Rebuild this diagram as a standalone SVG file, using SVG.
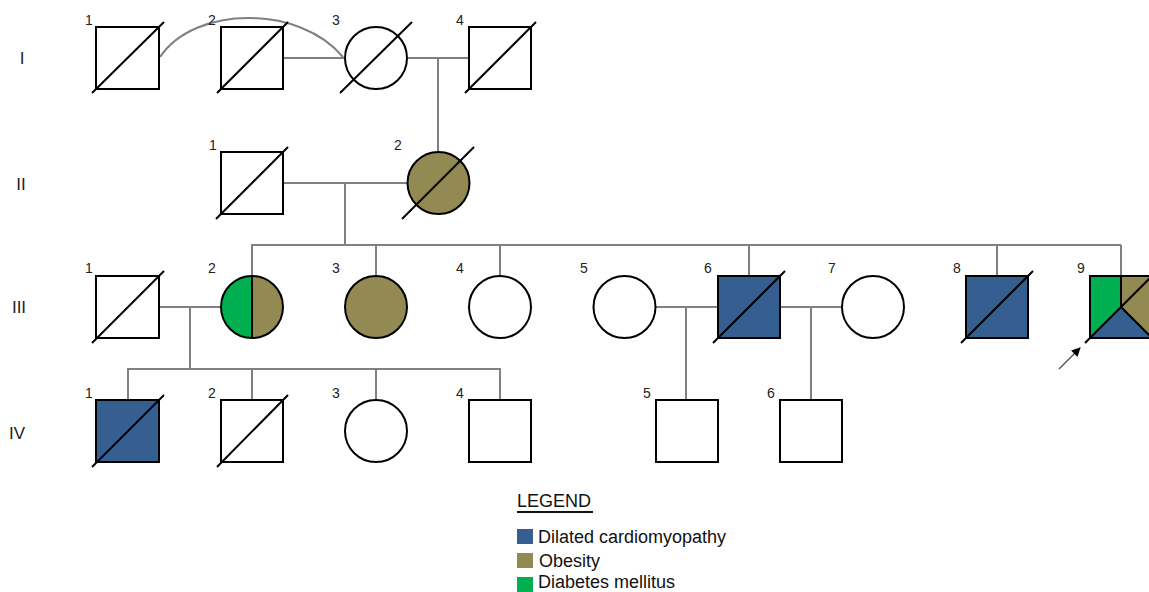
<svg xmlns="http://www.w3.org/2000/svg" width="1149" height="592" viewBox="0 0 1149 592">
<defs>
<style>
.n{stroke:#000;stroke-width:2;fill:#fff}
.blue{fill:#365F91}
.olive{fill:#938953}
.green{fill:#00B050}
.d{stroke:#000;stroke-width:2}
.c{stroke:#808080;stroke-width:2;fill:none}
.lb{font-family:"Liberation Sans",Arial,sans-serif;font-size:14px;fill:#222;text-anchor:middle}
.g{font-family:"Liberation Sans",Arial,sans-serif;font-size:17px;fill:#222;text-anchor:middle}
.lg{font-family:"Liberation Sans",Arial,sans-serif;font-size:18px;fill:#111}
</style>
<marker id="ah" viewBox="0 0 10 10" refX="9" refY="5" markerWidth="11" markerHeight="9" orient="auto" markerUnits="userSpaceOnUse">
<path d="M0,0 L10,5 L0,10 z" fill="#000"/>
</marker>
</defs>
<rect width="1149" height="592" fill="#fff"/>

<g id="generations">
<text class="g" x="22" y="64">I</text>
<text class="g" x="21" y="190">II</text>
<text class="g" x="19" y="313">III</text>
<text class="g" x="17" y="439">IV</text>
</g>

<g id="connectors">
<path class="c" d="M160,57 C195,5 300,5 343,57" stroke-width="1.5" stroke="#555"/>
<line class="c" x1="283" y1="58" x2="345" y2="58"/>
<line class="c" x1="407" y1="58" x2="469" y2="58"/>
<line class="c" x1="438" y1="58" x2="438" y2="151"/>
<line class="c" x1="283" y1="183" x2="407" y2="183"/>
<line class="c" x1="345" y1="183" x2="345" y2="245"/>
<line class="c" x1="251" y1="245" x2="1121" y2="245"/>
<line class="c" x1="252" y1="245" x2="252" y2="276"/>
<line class="c" x1="376" y1="245" x2="376" y2="276"/>
<line class="c" x1="500" y1="245" x2="500" y2="276"/>
<line class="c" x1="749" y1="245" x2="749" y2="276"/>
<line class="c" x1="997" y1="245" x2="997" y2="276"/>
<line class="c" x1="1121" y1="245" x2="1121" y2="276"/>
<line class="c" x1="159" y1="307" x2="221" y2="307"/>
<line class="c" x1="190" y1="307" x2="190" y2="369"/>
<line class="c" x1="127" y1="369" x2="501" y2="369"/>
<line class="c" x1="128" y1="369" x2="128" y2="400"/>
<line class="c" x1="252" y1="369" x2="252" y2="400"/>
<line class="c" x1="376" y1="369" x2="376" y2="400"/>
<line class="c" x1="500" y1="369" x2="500" y2="400"/>
<line class="c" x1="656" y1="307" x2="718" y2="307"/>
<line class="c" x1="686" y1="307" x2="686" y2="400"/>
<line class="c" x1="780" y1="307" x2="842" y2="307"/>
<line class="c" x1="811" y1="307" x2="811" y2="400"/>
<line x1="1059" y1="369" x2="1080" y2="348" stroke="#555" stroke-width="1.5" marker-end="url(#ah)"/>
</g>

<g id="I-1"><text class="lb" x="89" y="25">1</text><rect class="n" x="96" y="27" width="63" height="62"/><line class="d" x1="92" y1="93" x2="164" y2="22"/></g>
<g id="I-2"><text class="lb" x="212" y="25">2</text><rect class="n" x="221" y="27" width="62" height="62"/><line class="d" x1="217" y1="93" x2="288" y2="22"/></g>
<g id="I-3"><text class="lb" x="336" y="25">3</text><circle class="n" cx="376" cy="58" r="31"/><line class="d" x1="340" y1="93" x2="412" y2="22"/></g>
<g id="I-4"><text class="lb" x="460" y="25">4</text><rect class="n" x="469" y="27" width="62" height="62"/><line class="d" x1="465" y1="93" x2="536" y2="22"/></g>

<g id="II-1"><text class="lb" x="213" y="150">1</text><rect class="n" x="221" y="152" width="62" height="62"/><line class="d" x1="216" y1="219" x2="288" y2="147"/></g>
<g id="II-2"><text class="lb" x="398" y="150">2</text><circle class="n olive" cx="438.5" cy="183" r="31"/><line class="d" x1="402" y1="219" x2="474" y2="147"/></g>

<g id="III-1"><text class="lb" x="89" y="273">1</text><rect class="n" x="96" y="276" width="63" height="62"/><line class="d" x1="92" y1="343" x2="164" y2="271"/></g>
<g id="III-2"><text class="lb" x="212" y="273">2</text>
<path class="green" d="M252,276 A31,31 0 0,0 252,338 Z"/>
<path class="olive" d="M252,276 A31,31 0 0,1 252,338 Z"/>
<circle cx="252" cy="307" r="31" fill="none" stroke="#000" stroke-width="2"/>
<line class="d" x1="252" y1="276" x2="252" y2="338"/></g>
<g id="III-3"><text class="lb" x="336" y="273">3</text><circle class="n olive" cx="376" cy="307" r="31"/></g>
<g id="III-4"><text class="lb" x="460" y="273">4</text><circle class="n" cx="500" cy="307" r="31"/></g>
<g id="III-5"><text class="lb" x="584" y="273">5</text><circle class="n" cx="624.5" cy="307" r="31"/></g>
<g id="III-6"><text class="lb" x="708" y="273">6</text><rect class="n blue" x="718" y="276" width="62" height="62"/><line class="d" x1="713" y1="343" x2="785" y2="271"/></g>
<g id="III-7"><text class="lb" x="832" y="273">7</text><circle class="n" cx="873" cy="307" r="31"/></g>
<g id="III-8"><text class="lb" x="957" y="273">8</text><rect class="n blue" x="966" y="276" width="62" height="62"/><line class="d" x1="961" y1="343" x2="1033" y2="271"/></g>
<g id="III-9"><text class="lb" x="1081" y="273">9</text>
<polygon class="green" points="1090,276 1121,276 1121,307 1090,338"/>
<polygon class="olive" points="1121,276 1152,276 1152,338 1121,307"/>
<polygon class="blue" points="1090,338 1121,307 1152,338"/>
<rect x="1090" y="276" width="62" height="62" fill="none" stroke="#000" stroke-width="2"/>
<line class="d" x1="1121" y1="276" x2="1121" y2="307"/>
<line class="d" x1="1121" y1="307" x2="1152" y2="338"/>
<line class="d" x1="1085" y1="343" x2="1157" y2="271"/></g>

<g id="IV-1"><text class="lb" x="89" y="398">1</text><rect class="n blue" x="96" y="400" width="63" height="62"/><line class="d" x1="92" y1="467" x2="164" y2="395"/></g>
<g id="IV-2"><text class="lb" x="212" y="398">2</text><rect class="n" x="221" y="400" width="62" height="62"/><line class="d" x1="217" y1="467" x2="288" y2="395"/></g>
<g id="IV-3"><text class="lb" x="336" y="398">3</text><circle class="n" cx="376" cy="431" r="31"/></g>
<g id="IV-4"><text class="lb" x="460" y="398">4</text><rect class="n" x="469" y="400" width="62" height="62"/></g>
<g id="IV-5"><text class="lb" x="647" y="398">5</text><rect class="n" x="656" y="400" width="62" height="62"/></g>
<g id="IV-6"><text class="lb" x="771" y="398">6</text><rect class="n" x="780" y="400" width="62" height="62"/></g>

<g id="legend">
<text class="lg" x="517" y="507">LEGEND</text>
<line x1="517" y1="512" x2="593" y2="512" stroke="#111" stroke-width="2"/>
<rect class="blue" x="517" y="529" width="16" height="15"/>
<text class="lg" x="538" y="543">Dilated cardiomyopathy</text>
<rect class="olive" x="517" y="553" width="16" height="15"/>
<text class="lg" x="539" y="567">Obesity</text>
<rect class="green" x="517" y="577" width="16" height="15"/>
<text class="lg" x="538" y="588">Diabetes mellitus</text>
</g>
</svg>
